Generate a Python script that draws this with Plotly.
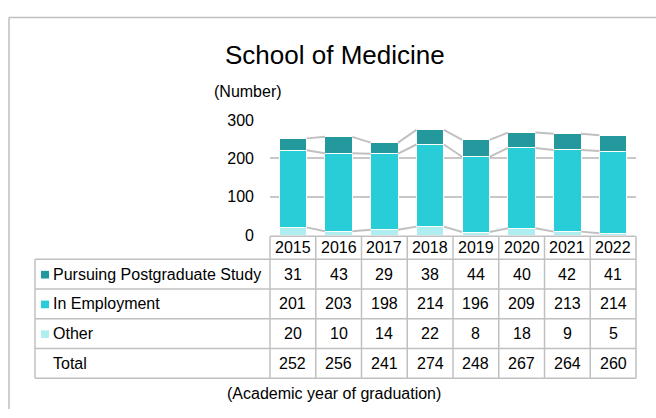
import numpy as np
import plotly.graph_objects as go

# ---------------- data ----------------
years = ["2015", "2016", "2017", "2018", "2019", "2020", "2021", "2022"]
pursuing = [31, 43, 29, 38, 44, 40, 42, 41]
employment = [201, 203, 198, 214, 196, 209, 213, 214]
other = [20, 10, 14, 22, 8, 18, 9, 5]
totals = [252, 256, 241, 274, 248, 267, 264, 260]
series_names = ["Pursuing Postgraduate Study", "In Employment", "Other"]
y_ticks = [0, 100, 200, 300]

# ---------------- style ----------------
C_PURSUE = "#23999e"
C_EMPLOY = "#29cdd8"
C_OTHER = "#aeeef0"
GRID = "#c8c8c8"
LINE = "#c0c0c0"
FONT = "Liberation Sans, Arial, sans-serif"
W, H = 656, 418
BAR_W = 0.6


def px(x):
    return x / W


def py(y):
    return 1 - y / H


xi = list(range(len(years)))
fig = go.Figure()

# stacked bars
for vals, col, name in [(other, C_OTHER, series_names[2]),
                        (employment, C_EMPLOY, series_names[1]),
                        (pursuing, C_PURSUE, series_names[0])]:
    fig.add_trace(go.Bar(x=xi, y=vals, width=BAR_W, name=name,
                         marker=dict(color=col, line=dict(color="white", width=1))))

# series lines between bars (connect segment tops)
cum = np.cumsum(np.array([other, employment, pursuing]), axis=0)
for level in cum:
    lx, ly = [], []
    for i in range(len(years) - 1):
        lx += [i + BAR_W / 2, i + 1 - BAR_W / 2, None]
        ly += [float(level[i]), float(level[i + 1]), None]
    fig.add_trace(go.Scatter(x=lx, y=ly, mode="lines", hoverinfo="skip",
                             line=dict(color=LINE, width=2), showlegend=False))

# ---------------- layout geometry (page pixels) ----------------
PLOT_L, PLOT_R = 270, 636
PLOT_T, PLOT_B = 116.7, 236.7
TAB_L = 35
HDR_T = 238
ROWS = [262, 293, 324, 355, 386]
col_w = (PLOT_R - PLOT_L) / len(years)

shapes = []
# outer frame (left and top edges; the rest lies outside the image)
shapes.append(dict(type="line", xref="paper", yref="paper",
                   x0=px(9), x1=px(9), y0=py(10), y1=0,
                   line=dict(color="#bfbfbf", width=1.5), layer="below"))
shapes.append(dict(type="line", xref="paper", yref="paper",
                   x0=px(9), x1=1, y0=py(10), y1=py(10),
                   line=dict(color="#bfbfbf", width=1.5), layer="below"))
# table horizontal lines
shapes.append(dict(type="line", xref="paper", yref="paper",
                   x0=px(PLOT_L), x1=px(PLOT_R), y0=py(HDR_T), y1=py(HDR_T),
                   line=dict(color=LINE, width=1.5)))
for r in ROWS:
    shapes.append(dict(type="line", xref="paper", yref="paper",
                       x0=px(TAB_L), x1=px(PLOT_R), y0=py(r), y1=py(r),
                       line=dict(color=LINE, width=1.5)))
# table vertical lines
shapes.append(dict(type="line", xref="paper", yref="paper",
                   x0=px(TAB_L), x1=px(TAB_L), y0=py(ROWS[0]), y1=py(ROWS[-1]),
                   line=dict(color=LINE, width=1.5)))
for k in range(len(years) + 1):
    xx = PLOT_L + k * col_w
    shapes.append(dict(type="line", xref="paper", yref="paper",
                       x0=px(xx), x1=px(xx), y0=py(HDR_T), y1=py(ROWS[-1]),
                       line=dict(color=LINE, width=1.5)))
# legend squares
row_c = [(ROWS[i] + ROWS[i + 1]) / 2 for i in range(4)]
for i, col in enumerate([C_PURSUE, C_EMPLOY, C_OTHER]):
    cy = row_c[i] + 0.5
    shapes.append(dict(type="rect", xref="paper", yref="paper",
                       x0=px(41), x1=px(49), y0=py(cy - 4), y1=py(cy + 4),
                       fillcolor=col, line=dict(width=0)))

ann = []
txt = dict(family=FONT, size=16, color="#000000")
ann.append(dict(text="School of Medicine", x=px(335), y=py(49), xref="paper", yref="paper",
                showarrow=False, xanchor="center", yanchor="middle",
                font=dict(family=FONT, size=26, color="#000000")))
ann.append(dict(text="(Number)", x=px(248), y=py(87), xref="paper", yref="paper",
                showarrow=False, xanchor="center", yanchor="middle", font=txt))
ann.append(dict(text="(Academic year of graduation)", x=px(334), y=py(402),
                xref="paper", yref="paper", showarrow=False,
                xanchor="center", yanchor="middle", font=txt))
# header years
for i, yv in enumerate(years):
    ann.append(dict(text=yv, x=i, xref="x", y=py((HDR_T + ROWS[0]) / 2), yref="paper",
                    showarrow=False, xanchor="center", yanchor="middle", font=txt))
# table rows
row_labels = series_names + ["Total"]
row_vals = [pursuing, employment, other, totals]
for r, (lab, vals) in enumerate(zip(row_labels, row_vals)):
    ann.append(dict(text=lab, x=px(51), y=py(row_c[r]), xref="paper", yref="paper",
                    showarrow=False, xanchor="left", yanchor="middle", font=txt))
    for i, v in enumerate(vals):
        ann.append(dict(text=str(v), x=i, xref="x", y=py(row_c[r]), yref="paper",
                        showarrow=False, xanchor="center", yanchor="middle", font=txt))

fig.update_layout(
    width=W, height=H, autosize=False,
    margin=dict(l=0, r=0, t=0, b=0),
    paper_bgcolor="white", plot_bgcolor="white",
    barmode="stack", bargap=0.4, showlegend=False,
    font=dict(family=FONT, size=16, color="#000000"),
    xaxis=dict(domain=[px(PLOT_L), px(PLOT_R)], range=[-0.5, len(years) - 0.5],
               visible=False, fixedrange=True),
    yaxis=dict(domain=[py(PLOT_B), py(PLOT_T)], range=[0, 300], tickvals=y_ticks,
               showgrid=True, gridcolor=GRID, gridwidth=1.5, zeroline=False,
               showline=False, ticks="", ticklabelstandoff=15,
               tickfont=dict(family=FONT, size=16, color="#000000"), fixedrange=True),
    shapes=shapes, annotations=ann,
)

# place the figure flush with the page's top-left corner
page_css = ("document.body.style.margin='0';"
            "document.documentElement.style.overflow='hidden';")
fig.write_html("out.html", post_script=page_css, config={"displayModeBar": False})
